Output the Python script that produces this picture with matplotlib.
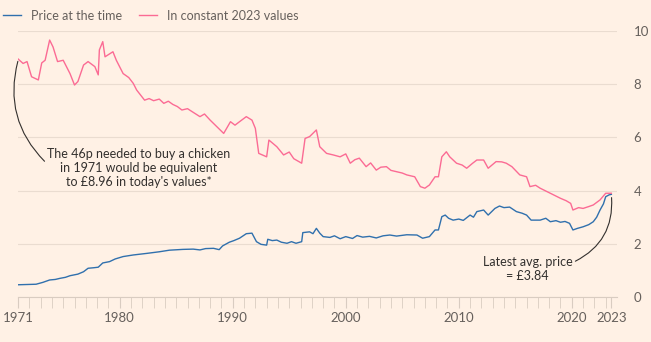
import matplotlib
matplotlib.use('Agg')
import matplotlib.pyplot as plt
import numpy as np

# Price of a whole chicken (GBP per kg)
nominal_years = [1971.0, 1971.8, 1972.6, 1973.2, 1973.8, 1974.3, 1974.7, 1975.2, 1975.6, 1976.3,
                 1976.8, 1977.2, 1977.7, 1978.1, 1978.3, 1978.5, 1979.1, 1979.6, 1980.3, 1981.2,
                 1982.4, 1983.5, 1984.4, 1985.6, 1986.5, 1987.1, 1987.6, 1988.3, 1988.8, 1989.1,
                 1989.7, 1990.1, 1990.6, 1991.2, 1991.7, 1992.1, 1992.5, 1993.0, 1993.1, 1993.5,
                 1993.9, 1994.3, 1994.8, 1995.2, 1995.6, 1996.1, 1996.2, 1996.8, 1997.1, 1997.4,
                 1997.7, 1998.0, 1998.6, 1999.0, 1999.5, 2000.0, 2000.6, 2001.0, 2001.5, 2002.1,
                 2002.7, 2003.3, 2003.9, 2004.5, 2005.4, 2006.3, 2006.8, 2007.4, 2007.9, 2008.2,
                 2008.5, 2008.8, 2009.1, 2009.5, 2010.0, 2010.4, 2011.0, 2011.3, 2011.6, 2012.2,
                 2012.6, 2013.2, 2013.6, 2014.0, 2014.5, 2015.1, 2015.6, 2016.0, 2016.4, 2017.2,
                 2017.7, 2018.1, 2018.6, 2019.0, 2019.4, 2019.8, 2020.1, 2020.5, 2021.0, 2021.5,
                 2021.9, 2022.2, 2022.5, 2022.8, 2023.0, 2023.3, 2023.5]
nominal = [0.46, 0.47, 0.48, 0.55, 0.64, 0.66, 0.70, 0.74, 0.80, 0.86,
           0.95, 1.08, 1.10, 1.12, 1.20, 1.28, 1.33, 1.43, 1.52, 1.58,
           1.64, 1.70, 1.76, 1.79, 1.80, 1.77, 1.82, 1.83, 1.78, 1.92,
           2.06, 2.12, 2.21, 2.38, 2.40, 2.08, 1.98, 1.95, 2.17, 2.12,
           2.14, 2.06, 2.02, 2.08, 2.02, 2.08, 2.42, 2.45, 2.38, 2.58,
           2.40, 2.27, 2.24, 2.30, 2.19, 2.27, 2.20, 2.31, 2.25, 2.28,
           2.22, 2.30, 2.33, 2.29, 2.34, 2.33, 2.21, 2.27, 2.52, 2.52,
           3.02, 3.08, 2.96, 2.89, 2.93, 2.88, 3.08, 3.00, 3.21, 3.27,
           3.08, 3.33, 3.42, 3.36, 3.38, 3.21, 3.15, 3.08, 2.89, 2.89,
           2.96, 2.83, 2.87, 2.81, 2.84, 2.77, 2.52, 2.58, 2.64, 2.72,
           2.83, 3.00, 3.27, 3.50, 3.77, 3.84, 3.86]

real_years = [1971.0, 1971.45, 1971.8, 1972.2, 1972.8, 1973.1, 1973.4, 1973.8, 1974.1, 1974.5,
              1975.0, 1975.6, 1976.0, 1976.3, 1976.8, 1977.2, 1977.8, 1978.1, 1978.2, 1978.5,
              1978.7, 1979.4, 1979.7, 1980.3, 1980.8, 1981.2, 1981.5, 1982.2, 1982.6, 1983.0,
              1983.5, 1983.9, 1984.3, 1984.7, 1985.1, 1985.5, 1986.0, 1986.4, 1987.1, 1987.5,
              1988.0, 1988.6, 1989.2, 1989.8, 1990.2, 1990.6, 1991.2, 1991.7, 1992.0, 1992.3,
              1993.0, 1993.2, 1993.9, 1994.5, 1995.0, 1995.4, 1996.1, 1996.4, 1996.8, 1997.4,
              1997.7, 1998.3, 1998.9, 1999.5, 2000.0, 2000.4, 2000.8, 2001.2, 2001.8, 2002.2,
              2002.7, 2003.1, 2003.6, 2004.0, 2004.5, 2005.0, 2005.4, 2006.1, 2006.6, 2007.0,
              2007.4, 2007.9, 2008.2, 2008.5, 2008.9, 2009.2, 2009.8, 2010.3, 2010.7, 2011.2,
              2011.6, 2012.2, 2012.6, 2013.3, 2013.8, 2014.2, 2014.7, 2015.4, 2016.0, 2016.3,
              2016.8, 2017.2, 2018.1, 2019.0, 2019.5, 2019.9, 2020.1, 2020.6, 2021.0, 2021.5,
              2021.9, 2022.5, 2023.0, 2023.5]
real = [8.95, 8.78, 8.85, 8.28, 8.16, 8.80, 8.90, 9.66, 9.40, 8.85,
        8.90, 8.40, 7.97, 8.10, 8.72, 8.85, 8.66, 8.35, 9.29, 9.60,
        9.03, 9.22, 8.90, 8.40, 8.25, 8.03, 7.78, 7.40, 7.46, 7.38,
        7.44, 7.28, 7.36, 7.24, 7.16, 7.03, 7.08, 6.97, 6.78, 6.88,
        6.65, 6.40, 6.15, 6.59, 6.46, 6.59, 6.78, 6.65, 6.34, 5.40,
        5.27, 5.90, 5.65, 5.34, 5.45, 5.20, 5.03, 5.96, 6.03, 6.28,
        5.65, 5.40, 5.34, 5.27, 5.38, 5.03, 5.16, 5.22, 4.90, 5.04,
        4.77, 4.88, 4.90, 4.76, 4.71, 4.66, 4.59, 4.52, 4.15, 4.09,
        4.21, 4.52, 4.52, 5.27, 5.46, 5.27, 5.03, 4.96, 4.84, 5.02,
        5.15, 5.15, 4.84, 5.09, 5.08, 5.03, 4.90, 4.59, 4.52, 4.15,
        4.20, 4.09, 3.90, 3.71, 3.62, 3.52, 3.27, 3.36, 3.33, 3.40,
        3.46, 3.65, 3.90, 3.90]

x_ticks = [1971, 1980, 1990, 2000, 2010, 2020, 2023.5]
x_labels = ['1971', '1980', '1990', '2000', '2010', '2020', '2023']
y_ticks = [0, 2, 4, 6, 8, 10]

bg = '#fff1e5'
blue = '#3070ad'
pink = '#fb6b94'
grey = '#66605c'

plt.rcParams['font.family'] = ['Lato', 'DejaVu Sans']

fig = plt.figure(figsize=(6.51, 3.42), dpi=100, facecolor=bg)
ax = fig.add_axes([18 / 651, 45 / 342, 599 / 651, 266 / 342], facecolor=bg)

ax.plot(nominal_years, nominal, color=blue, lw=1.0, label='Price at the time')
ax.plot(real_years, real, color=pink, lw=1.0, label='In constant 2023 values')

ax.set_xlim(1971, 2024)
ax.set_ylim(0, 10)

# grid + axes
for s in ['top', 'left', 'right']:
    ax.spines[s].set_visible(False)
ax.spines['bottom'].set_color('#d9ccc1')
ax.yaxis.tick_right()
ax.set_yticks(y_ticks)
ax.tick_params(axis='y', length=0, pad=12, labelsize=9.5, labelcolor=grey)
ax.grid(axis='y', color='#eadcd0', lw=0.8)
ax.set_axisbelow(True)

ax.set_xticks(x_ticks)
ax.set_xticklabels(x_labels)
ax.set_xticks(np.arange(1972, 2024), minor=True)
ax.tick_params(axis='x', which='both', length=8, color='#d9ccc1', labelsize=9.5,
               labelcolor=grey, pad=3)

# legend
leg = ax.legend(loc='lower left', bbox_to_anchor=(-0.025, 1.035), ncol=2, frameon=False,
                fontsize=9, handlelength=1.4, columnspacing=1.4, handletextpad=0.8,
                borderaxespad=0, borderpad=0)
for t in leg.get_texts():
    t.set_color(grey)

# annotations
ax.annotate("The 46p needed to buy a chicken\nin 1971 would be equivalent\nto £8.96 in today's values*",
            xy=(1971.05, 8.96), xytext=(1981.7, 4.85), ha='center', va='center',
            fontsize=9, color='#33302e', linespacing=1.2,
            arrowprops=dict(arrowstyle='-', color='#33302e', lw=0.8,
                            shrinkA=0, shrinkB=2,
                            relpos=(0.0, 0.6),
                            connectionstyle='arc3,rad=-0.3'))

ax.annotate('Latest avg. price\n= £3.84',
            xy=(2023.5, 3.84), xytext=(2016.1, 1.05), ha='center', va='center',
            fontsize=9, color='#33302e', linespacing=1.2,
            arrowprops=dict(arrowstyle='-', color='#33302e', lw=0.8,
                            shrinkA=0, shrinkB=2,
                            relpos=(1.0, 0.75),
                            connectionstyle='arc3,rad=0.35'))

fig.savefig('out.png', dpi=100, facecolor=bg)
